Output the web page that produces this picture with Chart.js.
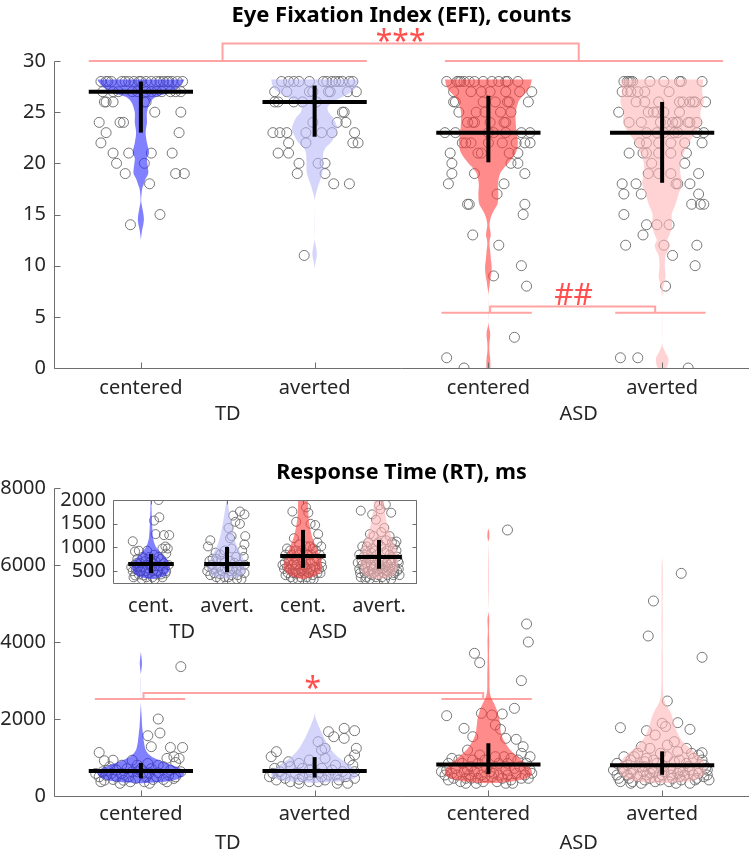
<!DOCTYPE html>
<html>
<head>
<meta charset="utf-8">
<script src="https://cdn.jsdelivr.net/npm/chart.js@4.4.1/dist/chart.umd.min.js"></script>
<style>
  html, body { margin: 0; padding: 0; background: #fff; }
  #wrap { position: relative; width: 755px; height: 855px; overflow: hidden; }
  canvas { position: absolute; left: 0; }
</style>
</head>
<body>
<div id="wrap">
  <canvas id="efi" width="755" height="440" style="top:0px"></canvas>
  <canvas id="rt" width="755" height="425" style="top:430px"></canvas>
  <canvas id="inset" width="440" height="170" style="top:480px"></canvas>
</div>
<script>
// ---- labels ----
const conditions = ['centered', 'averted', 'centered', 'averted'];
const insetConditions = ['cent.', 'avert.', 'cent.', 'avert.'];
const clusters = ['TD', 'ASD'];
const efiYTicks = [0, 5, 10, 15, 20, 25, 30];
const rtYTicks = [0, 2000, 4000, 6000, 8000];
const insetYTicks = [500, 1000, 1500, 2000];

// ---- EFI (counts), one value per participant + horizontal jitter ----
const efiTDcVal = [28,28,28,28,28,28,28,28,28,28,28,28,28,28,28,28,28,28,28,28,
  27,27,27,27,27,27,27,27,27,27,27,27, 26,26,26,26,26, 25,25, 24,24,24, 23,23, 22,
  21,21,21,21, 20,20, 19,19,19, 18, 15, 14];
const efiTDcJit = [-0.23,-0.19,-0.17,-0.11,-0.09,-0.04,-0.01,0.00,0.06,0.11,0.13,0.15,0.16,0.21,0.24,-0.20,-0.07,0.03,0.09,0.18,
  -0.13,-0.05,-0.02,0.03,0.09,0.17,0.20,-0.22,-0.16,0.06,0.12,0.23, -0.21,-0.20,-0.16,0.02,0.03, 0.08,0.23, -0.24,-0.12,-0.10, -0.20,0.22, -0.23,
  -0.16,-0.07,0.06,0.18, -0.14,0.02, -0.09,0.20,0.25, 0.05, 0.11, -0.06];

const efiTDaVal = [28,28,28,28,28,28,28,28,28,28,28,28,28, 27,27,27,27,27,27,27,27, 26,26,26,26,26,
  25,25, 24,24,24, 23,23,23,23,23,23,23, 22,22,22,22, 21,21, 20,20,20, 19,19, 18,18, 11];
const efiTDaJit = [-0.19,-0.15,-0.12,-0.09,-0.03,0.05,0.07,0.10,0.12,0.14,0.16,0.20,0.22, -0.23,-0.16,-0.03,-0.01,0.08,0.09,0.19,0.24, -0.23,-0.12,-0.07,0.01,-0.21,
  0.16,0.17, -0.01,0.13,0.18, -0.24,-0.20,-0.16,-0.05,0.04,0.10,0.23, -0.15,-0.05,0.22,0.25, -0.21,-0.15, -0.09,0.02,0.06, -0.10,0.06, 0.11,0.20, -0.06];

const efiASDcVal = [28,28,28,28,28,28,28,28,28,28,28,28,28, 27,27,27,27,27,27,27, 26,26,26,26,26,26,26,
  25,25,25,25,25, 24,24,24,24,24,24, 23,23,23,23,23,23,23, 22,22,22,22,22,22,22,22, 21,21,21,21,21,
  20,20,20, 19,19,19, 18,18, 17, 16,16,16, 15, 13, 12, 10, 9, 8, 3, 1, 0];
const efiASDcJit = [-0.24,-0.18,-0.17,-0.16,-0.14,-0.11,-0.08,-0.03,0.02,0.06,0.10,0.11,0.17, -0.20,-0.10,-0.04,0.01,0.10,0.18,0.25, -0.20,-0.19,-0.03,0.04,0.11,0.12,0.23,
  -0.17,-0.07,-0.02,0.07,0.13, -0.12,-0.09,-0.08,0.01,0.09,0.10, -0.25,-0.19,0.00,0.03,0.10,0.19,0.24, -0.15,-0.13,-0.10,0.00,0.08,0.16,0.21,0.24, -0.22,-0.06,-0.04,0.12,0.17,
  -0.21,0.13,0.17, -0.21,-0.08,0.21, -0.23,0.09, 0.05, -0.12,-0.11,0.21, 0.20, -0.09, 0.06, 0.19, 0.03, 0.22, 0.15, -0.24, -0.14];

const efiASDaVal = [28,28,28,28,28,28,28,28,28,28, 27,27,27,27,27,27, 26,26,26,26,26,26,26,26,26,
  25,25,25,25,25,25, 24,24,24,24,24,24,24,24,24,24, 23,23,23,23,23,23,23, 22,22,22,22,22,22, 21,21,21,21,21,21,
  20,20, 19,19,19,19, 18,18,18,18,18, 17,17,17, 16,16,16, 15, 14,14,14, 13, 12,12,12, 11, 10, 8, 1,1, 0];
const efiASDaJit = [-0.22,-0.20,-0.19,-0.18,-0.17,-0.07,0.01,0.10,0.11,0.23, -0.23,-0.20,-0.18,-0.14,-0.10,0.04, -0.15,-0.10,-0.02,0.10,0.12,0.16,0.18,0.19,0.25,
  -0.25,-0.08,-0.05,-0.03,0.01,0.10, -0.19,-0.12,-0.01,0.02,0.06,0.08,0.09,0.15,0.16,0.20, -0.09,-0.03,0.01,0.07,0.09,0.20,0.24, -0.13,-0.09,-0.02,0.05,0.13,0.23, -0.19,-0.11,-0.09,-0.02,0.05,0.14,
  -0.06,0.13, -0.08,-0.02,0.05,0.21, -0.23,-0.15,0.08,0.09,0.16, -0.22,-0.12,0.21, 0.17,0.22,0.24, -0.22, -0.09,-0.03,0.04, -0.11, -0.21,0.01,0.20, 0.06, 0.19, 0.02, -0.24,-0.14, 0.15];

// violin outlines: [value, relative density]
const efiTDcViolin = [[28.2,1.0],[28,0.98],[27.5,0.88],[27,0.73],[26.5,0.35],[26,0.22],[25,0.14],[24,0.14],[23,0.11],[22,0.14],[21,0.19],[20.5,0.14],[20,0.15],[19,0.17],[18.5,0.11],[18,0.07],[17.5,0.03],[17,0.015],[16.3,0.008],[15.5,0.04],[15,0.06],[14.5,0.07],[14,0.055],[13.5,0.03],[13,0.012],[12.5,0]];
const efiTDaViolin = [[28.2,1.0],[27.5,0.96],[27,0.85],[26.5,0.65],[26,0.42],[25.5,0.3],[25,0.32],[24.5,0.42],[24,0.48],[23.5,0.52],[23,0.5],[22,0.37],[21.5,0.25],[21,0.2],[20,0.19],[19,0.18],[18.5,0.14],[18,0.1],[17.5,0.06],[17,0.03],[16.5,0.004],[16,0],[12.6,0],[12,0.025],[11.5,0.045],[11,0.05],[10.5,0.03],[10,0.008],[9.8,0]];
const efiASDcViolin = [[28.2,1.0],[27.5,0.96],[27,0.88],[26.5,0.77],[26,0.69],[25,0.63],[24,0.63],[23,0.65],[22,0.68],[21,0.63],[20,0.46],[19.5,0.35],[19,0.27],[18,0.22],[17,0.23],[16,0.21],[15.5,0.14],[15,0.08],[14.5,0.045],[14,0.025],[13.5,0.04],[13,0.055],[12.5,0.03],[12,0.025],[11.5,0.04],[11,0.05],[10.5,0.06],[10,0.075],[9.5,0.075],[9,0.06],[8.5,0.04],[8,0.025],[7.5,0.008],[7,0],[4.5,0],[4,0.015],[3.5,0.04],[3,0.04],[2.5,0.025],[2,0.02],[1.5,0.025],[1,0.04],[0.5,0.045],[0,0.04]];
const efiASDaViolin = [[28.2,0.95],[27,0.92],[26,0.96],[25,0.88],[24,0.9],[23,0.77],[22.5,0.69],[22,0.62],[21,0.5],[20,0.42],[19,0.42],[18,0.46],[17,0.38],[16,0.31],[15,0.22],[14,0.23],[13,0.17],[12.5,0.12],[12,0.17],[11.5,0.14],[11,0.08],[10,0.06],[9,0.08],[8.5,0.06],[8,0.03],[7.5,0.015],[7,0.004],[6.8,0],[2.5,0],[2,0.025],[1.5,0.08],[1,0.14],[0.5,0.14],[0,0.09]];

// median and vertical bar ends
const efiMedian = [27, 26, 23, 23];
const efiLow = [23, 22.6, 20.1, 18.1];
const efiHigh = [28, 27.6, 26.6, 26.0];

// significance brackets (data units)
const efiBrackets = [
  [[0.7,30],[2.3,30]], [[2.75,30],[4.35,30]], [[1.47,30],[1.47,31.7],[3.52,31.7],[3.52,30]],
  [[2.73,5.4],[3.25,5.4]], [[3.73,5.4],[4.25,5.4]], [[3.01,5.4],[3.01,6.0],[3.96,6.0],[3.96,5.4]]
];
const efiSigText = ['***', '##'];
const efiSigX = [2.495, 3.49];
const efiSigY = [31.0, 6.16];

// ---- RT (ms) ----
const rtTDcVal = [3360,2000,1566,1636,1281,1260,1260,1020,977,1130,915,930,870,977,800,845,930,800,760,630,670,710,800,710,760,670,
  500,540,585,585,630,585,600,600,540,500,370,410,430,410,455,500,430,430,455,500,500,630,670,500,370,330,370,585,630,710,370,330];
const rtTDcJit = [0.23,0.10,0.04,0.11,0.06,0.24,0.17,0.19,0.22,-0.24,-0.21,-0.16,0.20,0.15,0.10,0.04,-0.05,-0.11,-0.18,-0.22,-0.14,-0.08,-0.02,0.06,0.13,0.17,
  -0.24,-0.20,-0.17,-0.11,-0.05,0.01,0.05,0.10,0.16,0.20,-0.23,-0.21,-0.16,-0.10,-0.03,0.03,0.07,0.13,0.19,-0.14,-0.07,-0.02,-0.19,0.09,0.02,-0.12,0.15,-0.26,0.23,0.00,-0.06,0.05];

const rtTDaVal = [1671,1757,1697,1540,1497,1410,1238,1195,1238,1065,1151,1021,978,935,800,890,848,935,800,762,589,632,762,718,718,675,
  632,632,589,545,589,545,416,459,433,372,416,416,330,502,372,372,545,502,545,502,718,502,330,330,675,459];
const rtTDaJit = [0.08,0.17,0.23,0.11,0.17,0.02,0.06,0.04,0.24,0.23,-0.22,-0.25,0.06,0.20,0.22,-0.15,-0.09,-0.03,0.12,-0.19,-0.24,-0.20,-0.14,-0.07,0.04,0.10,
  0.16,0.23,-0.11,-0.03,0.02,0.12,-0.22,-0.17,-0.09,-0.03,0.06,0.14,0.19,-0.26,-0.14,0.02,-0.19,-0.07,0.08,0.18,-0.23,0.04,-0.09,0.13,-0.03,0.23];

const rtASDcVal = [6909,4468,4000,3706,3463,2996,2086,2277,2147,2104,2130,1844,1757,1541,1732,1498,1472,1281,1194,1065,
  1021,978,1108,1021,978,935,848,848,762,848,762,848,718,632,632,718,675,589,675,545,
  545,545,545,589,545,545,589,416,372,459,372,372,416,589,459,330,459,459,675,502,
  848,935,1021,718,848,935,632,675,459,545,459,330,459,632,502,330,330,935];
const rtASDcJit = [0.11,0.22,0.23,-0.08,-0.05,0.19,-0.24,0.15,-0.04,0.02,0.08,0.04,-0.14,-0.09,0.07,0.10,0.16,0.20,-0.12,-0.05,
  0.04,0.13,0.19,0.24,-0.21,-0.17,0.06,0.11,0.18,-0.06,-0.10,-0.23,-0.19,-0.14,-0.08,-0.01,0.10,0.16,0.24,-0.25,
  -0.18,-0.11,-0.04,0.03,0.11,0.21,0.25,-0.23,-0.16,-0.10,-0.03,0.05,0.13,-0.21,-0.13,-0.07,0.08,0.19,-0.24,0.02,
  -0.15,-0.02,0.09,0.15,0.22,-0.09,0.01,-0.12,-0.06,0.06,-0.20,0.14,0.23,-0.27,-0.02,0.10,-0.13,0.17];

const rtASDaVal = [5783,5065,4156,3602,2467,1775,1697,1805,1888,1905,1732,1584,1411,1281,1238,1324,1238,1125,1021,1108,
  1108,1151,978,1065,848,935,891,935,891,848,805,718,675,632,718,762,675,675,675,545,
  545,502,545,502,545,502,545,502,372,372,416,372,372,416,416,545,632,589,632,632,
  589,762,416,330,330,675,1021,978,848,1021,935,1108,935,459,459,330,459,545,459,545,
  459,416,805,762,718,762,718,589,632,589,330];
const rtASDaJit = [0.11,-0.05,-0.08,0.23,0.03,-0.24,-0.09,0.02,0.00,0.09,0.16,-0.04,0.07,-0.12,-0.07,0.03,0.14,0.23,-0.22,-0.14,
  -0.01,0.09,0.18,0.21,-0.26,-0.18,-0.10,-0.05,0.07,0.14,0.24,-0.23,-0.17,-0.11,-0.06,0.01,0.10,0.16,0.26,-0.26,
  -0.20,-0.14,-0.09,-0.02,0.05,0.10,0.18,0.24,-0.24,-0.17,-0.10,-0.04,0.04,0.11,0.19,0.26,-0.22,-0.07,0.01,0.12,
  0.21,-0.13,-0.01,0.08,-0.18,-0.28,-0.16,-0.09,-0.03,0.03,0.10,0.17,0.23,-0.25,-0.19,-0.12,-0.07,0.00,0.06,0.13,
  0.20,0.27,-0.20,-0.10,0.05,0.15,0.25,-0.18,-0.05,0.09,0.16];

const rtTDcViolin = [[3750,0],[3600,0.015],[3450,0.025],[3300,0.015],[3150,0],[2450,0],[2200,0.01],[2000,0.02],[1800,0.03],[1600,0.05],[1400,0.07],[1200,0.11],[1100,0.17],[1000,0.28],[900,0.48],[800,0.72],[700,0.93],[600,1.0],[500,0.95],[420,0.8],[370,0.55],[330,0]];
const rtTDaViolin = [[2150,0],[2000,0.03],[1800,0.1],[1600,0.18],[1400,0.27],[1200,0.38],[1000,0.55],[850,0.75],[700,0.92],[550,1.0],[450,0.9],[380,0.6],[340,0]];
const rtASDcViolin = [[6950,0],[6850,0.02],[6700,0.02],[6600,0],[4800,0],[4600,0.02],[4300,0.012],[4000,0.02],[3700,0.015],[3400,0.02],[3100,0.025],[2800,0.025],[2600,0.05],[2450,0.11],[2250,0.19],[2000,0.25],[1800,0.27],[1600,0.3],[1400,0.38],[1200,0.5],[1000,0.7],[850,0.85],[700,0.98],[550,1.0],[450,0.85],[370,0.5],[330,0]];
const rtASDaViolin = [[6200,0],[6000,0.01],[5500,0.015],[5000,0.01],[4500,0.015],[4000,0.01],[3500,0.015],[3000,0.015],[2600,0.03],[2400,0.08],[2200,0.18],[2000,0.25],[1700,0.33],[1450,0.45],[1200,0.68],[1000,0.88],[800,1.0],[600,0.98],[450,0.85],[370,0.55],[330,0]];

const rtMedian = [650, 650, 820, 800];
const rtLow = [460, 480, 570, 550];
const rtHigh = [860, 1010, 1370, 1160];

const rtBrackets = [
  [[0.735,2520],[1.255,2520]], [[2.73,2520],[3.25,2520]], [[1.015,2520],[1.015,2675],[2.97,2675],[2.97,2520]]
];
const rtSigText = ['*'];
const rtSigX = [1.99];
const rtSigY = [2545];

// ---- styling ----
const FONT = '"Noto Sans", "DejaVu Sans", sans-serif';
const TXT = '#262626';
const AXC = '#6e6e6e';
const SIGC = '#ff4f4f';
const BRC = '#ffa3a3';
const VW = 0.25;     // max violin half width (x units)
const CROSS = 0.3;   // half width of the median bar
const violinFill = ['rgba(45,45,255,0.6)', 'rgba(185,185,250,0.6)', 'rgba(255,62,62,0.6)', 'rgba(255,182,182,0.6)'];

function violinShape(pos, prof) {
  const right = prof.map(([v, d]) => ({x: pos + d * VW, y: v}));
  const left = prof.slice().reverse().map(([v, d]) => ({x: pos - d * VW, y: v}));
  return right.concat(left);
}

function buildSets(vals, jits, violins, med, lo, hi, brackets, radius) {
  const sets = [];
  for (let g = 0; g < 4; g++) {
    const pos = g + 1;
    sets.push({
      type: 'scatter', order: 2,
      data: vals[g].map((v, i) => ({x: pos + jits[g][i], y: v})),
      pointRadius: radius, pointBorderWidth: 1,
      pointBorderColor: 'rgba(105,105,105,0.9)', pointBackgroundColor: 'rgba(0,0,0,0)'
    });
    sets.push({
      type: 'line', order: 1, data: violinShape(pos, violins[g]),
      fill: 'shape', backgroundColor: violinFill[g], borderColor: 'rgba(0,0,0,0)',
      borderWidth: 0, pointRadius: 0, tension: 0.3
    });
    sets.push({
      type: 'line', order: 0,
      data: [{x: pos - CROSS, y: med[g]}, {x: pos + CROSS, y: med[g]}],
      borderColor: '#000', borderWidth: 4, pointRadius: 0, fill: false
    });
    sets.push({
      type: 'line', order: 0,
      data: [{x: pos, y: lo[g]}, {x: pos, y: hi[g]}],
      borderColor: '#000', borderWidth: 4, pointRadius: 0, fill: false
    });
  }
  brackets.forEach(b => sets.push({
    type: 'line', order: 3, clip: false,
    data: b.map(([x, y]) => ({x, y})),
    borderColor: BRC, borderWidth: 2, pointRadius: 0, fill: false, tension: 0
  }));
  return sets;
}

const matlabAxes = {
  id: 'matlabAxes',
  afterDraw(chart, args, o) {
    const {ctx, chartArea: a} = chart;
    const x = chart.scales.x, y = chart.scales.y;
    const L = Math.round(a.left) + 0.5, B = Math.round(a.bottom) + 0.5;
    const R = Math.round(a.right) - 0.5, T = Math.round(a.top) + 0.5;
    ctx.save();
    ctx.strokeStyle = AXC;
    ctx.lineWidth = 1;
    ctx.beginPath();
    ctx.moveTo(L, T); ctx.lineTo(L, B); ctx.lineTo(a.right, B);
    if (o.box) { ctx.moveTo(R, B); ctx.lineTo(R, T); ctx.lineTo(L, T); }
    y.ticks.forEach(t => {
      const p = Math.round(y.getPixelForValue(t.value)) + 0.5;
      ctx.moveTo(L, p); ctx.lineTo(L + o.tick, p);
      if (o.box) { ctx.moveTo(R, p); ctx.lineTo(R - o.tick, p); }
    });
    x.ticks.forEach(t => {
      const p = Math.round(x.getPixelForValue(t.value)) + 0.5;
      ctx.moveTo(p, B); ctx.lineTo(p, B - o.tick);
      if (o.box) { ctx.moveTo(p, T); ctx.lineTo(p, T + o.tick); }
    });
    ctx.stroke();

    ctx.fillStyle = TXT;
    ctx.font = '20px ' + FONT;
    ctx.textAlign = 'center';
    ctx.textBaseline = 'middle';
    o.groups.forEach((g, i) => ctx.fillText(g, x.getPixelForValue(o.groupX[i]), a.bottom + o.groupDy));

    if (o.title) {
      ctx.fillStyle = '#000';
      ctx.font = 'bold ' + o.titleSize + 'px ' + FONT;
      ctx.textBaseline = 'alphabetic';
      ctx.fillText(o.title, (a.left + a.right) / 2, o.titleY);
    }
    if (o.sigText) {
      ctx.fillStyle = SIGC;
      ctx.font = '30px ' + FONT;
      ctx.textBaseline = 'alphabetic';
      o.sigText.forEach((s, i) => ctx.fillText(s, x.getPixelForValue(o.sigX[i]), y.getPixelForValue(o.sigY[i])));
    }
    ctx.restore();
  }
};

function xAxis(labels, pad, height) {
  return {
    type: 'linear', min: 0.5, max: 4.5,
    grid: {display: false, drawTicks: false}, border: {display: false},
    afterBuildTicks: s => { s.ticks = [1, 2, 3, 4].map(v => ({value: v})); },
    afterFit: s => { s.height = height; },
    ticks: {callback: (v, i) => labels[i], autoSkip: false, maxRotation: 0, minRotation: 0,
      padding: pad, color: TXT, font: {family: FONT, size: 20}}
  };
}
function yAxis(ticks, min, max, width, pad) {
  return {
    type: 'linear', min, max,
    grid: {display: false, drawTicks: false}, border: {display: false},
    afterBuildTicks: s => { s.ticks = ticks.map(v => ({value: v})); },
    afterFit: s => { s.width = width; },
    ticks: {padding: pad, color: TXT, font: {family: FONT, size: 20}, callback: v => String(v)}
  };
}
function baseOptions(padding, scales, axesOpts) {
  return {
    responsive: false, animation: false, devicePixelRatio: 1, events: [],
    layout: {padding},
    scales,
    plugins: {legend: {display: false}, tooltip: {enabled: false}, matlabAxes: axesOpts}
  };
}

new Chart(document.getElementById('efi'), {
  type: 'scatter',
  data: {datasets: buildSets([efiTDcVal, efiTDaVal, efiASDcVal, efiASDaVal], [efiTDcJit, efiTDaJit, efiASDcJit, efiASDaJit],
    [efiTDcViolin, efiTDaViolin, efiASDcViolin, efiASDaViolin], efiMedian, efiLow, efiHigh, efiBrackets, 5)},
  options: baseOptions({top: 61, right: 2, left: 0, bottom: 0},
    {x: xAxis(conditions, 8, 72), y: yAxis(efiYTicks, 0, 30, 54, 8)},
    {tick: 6, box: false, groups: clusters, groupX: [1.5, 3.52], groupDy: 46,
     title: 'Eye Fixation Index (EFI), counts', titleSize: 22, titleY: 22,
     sigText: efiSigText, sigX: efiSigX, sigY: efiSigY}),
  plugins: [matlabAxes]
});

const rtVals = [rtTDcVal, rtTDaVal, rtASDcVal, rtASDaVal];
const rtJits = [rtTDcJit, rtTDaJit, rtASDcJit, rtASDaJit];
const rtViolins = [rtTDcViolin, rtTDaViolin, rtASDcViolin, rtASDaViolin];

new Chart(document.getElementById('rt'), {
  type: 'scatter',
  data: {datasets: buildSets(rtVals, rtJits, rtViolins, rtMedian, rtLow, rtHigh, rtBrackets, 5)},
  options: baseOptions({top: 58, right: 2, left: 0, bottom: 0},
    {x: xAxis(conditions, 6, 59), y: yAxis(rtYTicks, 0, 8000, 54, 8)},
    {tick: 6, box: false, groups: clusters, groupX: [1.5, 3.52], groupDy: 47,
     title: 'Response Time (RT), ms', titleSize: 21.5, titleY: 49,
     sigText: rtSigText, sigX: rtSigX, sigY: rtSigY}),
  plugins: [matlabAxes]
});

new Chart(document.getElementById('inset'), {
  type: 'scatter',
  data: {datasets: buildSets(rtVals, rtJits, rtViolins, rtMedian, rtLow, rtHigh, [], 4.5)},
  options: baseOptions({top: 20, right: 23, left: 0, bottom: 0},
    {x: xAxis(insetConditions, 11, 67), y: yAxis(insetYTicks, 250, 2000, 113, 7)},
    {tick: 4, box: true, groups: clusters, groupX: [1.41, 3.33], groupDy: 49}),
  plugins: [matlabAxes]
});
</script>
</body>
</html>
